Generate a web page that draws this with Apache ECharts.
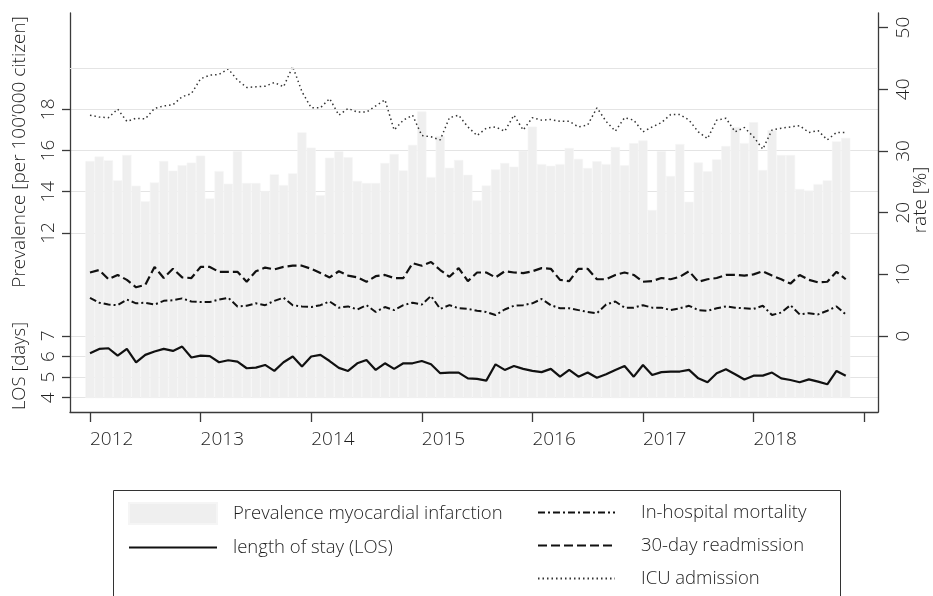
<!DOCTYPE html>
<html>
<head>
<meta charset="utf-8">
<script src="https://cdn.jsdelivr.net/npm/echarts@6/dist/echarts.min.js"></script>
<style>
html,body{margin:0;padding:0;background:#fff;}
#chart{width:933px;height:596px;}
</style>
</head>
<body>
<div id="chart"></div>
<script>
// Monthly data, Jan 2012 .. Nov 2018
const yearLabels = ['2012','2013','2014','2015','2016','2017','2018'];
const prevalence = [
  15.49,15.71,15.52,14.55,15.78,14.29,13.54,14.45,15.49,15.02,15.29,15.41,
  15.75,13.67,15.00,14.39,15.97,14.42,14.42,14.03,14.84,14.32,14.89,16.88,
  16.14,13.83,15.65,15.96,15.67,14.52,14.42,14.42,15.39,15.83,15.03,16.27,
  17.89,14.71,16.70,15.16,15.54,14.82,13.58,14.30,15.08,15.39,15.21,15.99,
  17.16,15.34,15.26,15.34,16.12,15.59,15.15,15.48,15.34,16.17,15.29,16.35,
  16.49,13.11,15.97,14.76,16.31,13.51,15.42,14.99,15.57,16.22,17.14,16.36,
  17.37,15.05,16.98,15.78,15.78,14.13,14.06,14.37,14.55,16.44,16.61
];
const los = [
  6.16,6.37,6.40,6.04,6.37,5.72,6.08,6.24,6.37,6.27,6.48,5.95,
  6.04,6.02,5.72,5.82,5.75,5.43,5.46,5.59,5.30,5.72,6.00,5.51,
  6.00,6.08,5.78,5.45,5.30,5.67,5.83,5.35,5.67,5.40,5.67,5.67,
  5.78,5.62,5.19,5.22,5.22,4.94,4.91,4.83,5.62,5.35,5.54,5.40,
  5.30,5.24,5.40,5.02,5.35,5.02,5.22,4.97,5.14,5.35,5.54,5.02,
  5.59,5.10,5.24,5.27,5.27,5.35,4.94,4.75,5.19,5.38,5.14,4.88,
  5.07,5.07,5.22,4.94,4.86,4.75,4.89,4.78,4.65,5.30,5.07
];
const mortality = [
  6.2,5.4,5.1,5.0,5.9,5.3,5.4,5.1,5.7,5.8,6.1,5.6,
  5.5,5.5,5.9,6.2,4.8,4.9,5.3,5.0,5.7,6.2,5.0,4.8,
  4.7,5.0,5.6,4.6,4.8,4.3,5.0,3.9,4.7,4.2,5.0,5.4,
  5.1,6.5,4.4,5.0,4.5,4.4,4.1,3.9,3.4,4.3,4.9,5.0,
  5.3,6.0,5.0,4.5,4.5,4.2,3.9,3.7,5.1,5.6,4.6,4.6,
  5.0,4.6,4.6,4.2,4.5,4.9,4.2,4.1,4.5,4.8,4.6,4.5,
  4.4,4.9,3.4,3.8,5.0,3.5,3.7,3.5,4.1,4.8,3.5
];
const readmission = [
  10.3,10.7,9.2,9.9,9.1,7.9,8.3,11.2,9.4,10.9,9.5,9.4,
  11.2,11.2,10.4,10.4,10.4,8.8,10.5,11.1,10.8,11.2,11.4,11.4,
  10.9,10.2,9.5,10.5,9.8,9.5,8.8,9.7,9.9,9.4,9.4,11.8,
  11.4,12.0,10.7,9.6,11.0,8.9,10.3,10.3,9.5,10.5,10.3,10.2,
  10.5,11.0,10.9,9.1,8.9,10.9,10.9,9.2,9.2,9.9,10.3,9.9,
  8.8,8.9,9.4,9.2,9.6,10.5,8.8,9.2,9.4,9.9,9.9,9.8,
  10.0,10.5,9.8,9.2,8.5,9.9,9.1,8.7,8.8,10.4,9.2
];
const icu = [
  35.8,35.5,35.4,36.8,34.8,35.3,35.2,36.9,37.3,37.5,38.8,39.3,
  41.7,42.3,42.4,43.3,41.5,40.3,40.4,40.5,41.1,40.4,43.7,39.6,
  37.0,37.0,38.5,35.8,36.9,36.3,36.3,37.3,38.3,33.4,35.0,35.8,
  32.5,32.3,31.8,35.4,35.8,33.9,32.5,33.7,33.9,33.2,35.8,33.4,
  35.4,35.0,35.1,34.8,34.8,33.9,34.2,37.0,34.8,33.2,35.4,35.0,
  33.1,33.9,34.6,35.9,35.9,35.0,33.1,32.0,35.0,35.3,33.1,33.8,
  32.3,30.3,33.4,33.7,33.9,34.1,33.0,33.3,31.8,33.0,33.0
];
const leftTicks = [4,5,6,7,12,14,16,18];
const rightTicks = [0,10,20,30,40,50];

const FONT = 'Open Sans';
const FW = 300;
const TXT = '#1e1e1e';
const AX = '#3a3a3a';
const toXY = arr => arr.map((v, i) => [i, v]);
const yearTickVals = yearLabels.map((_, k) => k * 12);
const xTickVals = yearTickVals.concat([yearLabels.length * 12]);

const XMIN = -2.17, XMAX = 85.5;
const hideSym = {opacity: 0};

const chart = echarts.init(document.getElementById('chart'), null, {renderer: 'canvas'});
chart.setOption({
  animation: false,
  backgroundColor: '#fff',
  textStyle: {fontFamily: FONT, fontWeight: FW},
  grid: [
    {left: 70, right: 55, top: 13, bottom: 184, containLabel: false},
    {left: 70, right: 55, top: 13, bottom: 198.3, containLabel: false}
  ],
  xAxis: [
    {
      type: 'value', gridIndex: 0, min: XMIN, max: XMAX, position: 'bottom',
      axisLine: {show: true, onZero: false, lineStyle: {color: AX, width: 1.3}},
      axisTick: {show: true, length: 10, customValues: xTickVals, lineStyle: {color: AX, width: 1.3}},
      axisLabel: {
        customValues: yearTickVals, align: 'left', margin: 18,
        color: TXT, fontSize: 19, fontFamily: FONT, fontWeight: FW,
        formatter: v => yearLabels[Math.round(v / 12)]
      },
      splitLine: {show: false}
    },
    {
      type: 'value', gridIndex: 1, min: XMIN, max: XMAX, show: false
    }
  ],
  yAxis: [
    {
      type: 'value', gridIndex: 0, position: 'left', min: 3.306, max: 22.675,
      axisLine: {show: true, onZero: false, lineStyle: {color: AX, width: 1.3}},
      axisTick: {show: true, length: 8, customValues: leftTicks, lineStyle: {color: AX, width: 1.3}},
      axisLabel: {customValues: leftTicks, rotate: 90, margin: 12, color: TXT, fontSize: 19, fontFamily: FONT, fontWeight: FW},
      splitLine: {show: true, lineStyle: {color: '#e4e4e4', width: 1}}
    },
    {
      type: 'value', gridIndex: 0, position: 'right', min: -12.32, max: 52.37,
      axisLine: {show: true, onZero: false, lineStyle: {color: AX, width: 1.3}},
      axisTick: {show: true, length: 10, customValues: rightTicks, lineStyle: {color: AX, width: 1.3}},
      axisLabel: {customValues: rightTicks, rotate: 90, margin: 16, color: TXT, fontSize: 19, fontFamily: FONT, fontWeight: FW},
      splitLine: {show: false}
    },
    {
      type: 'value', gridIndex: 1, min: 4, max: 22.675, show: false
    }
  ],
  legend: [
    {
      orient: 'vertical', left: 128, top: 502, padding: 0,
      itemWidth: 88, itemHeight: 21, itemGap: 13,
      textStyle: {color: TXT, fontSize: 18.5, fontFamily: FONT, fontWeight: FW, padding: [0, 0, 0, 11]},
      data: [
        {name: 'Prevalence myocardial infarction', icon: 'rect'},
        {name: 'length of stay (LOS)', itemStyle: hideSym}
      ],
      selectedMode: false
    },
    {
      orient: 'vertical', left: 537, top: 503, padding: 0,
      itemWidth: 77, itemHeight: 21, itemGap: 14,
      textStyle: {color: TXT, fontSize: 18.5, fontFamily: FONT, fontWeight: FW, padding: [0, 0, 0, 21]},
      data: [
        {name: 'In-hospital mortality', itemStyle: hideSym},
        {name: '30-day readmission', itemStyle: hideSym},
        {name: 'ICU admission', itemStyle: hideSym}
      ],
      selectedMode: false
    }
  ],
  graphic: [
    {type: 'rect', shape: {x: 113.5, y: 490.5, width: 727, height: 130}, style: {fill: 'none', stroke: '#333', lineWidth: 1}, silent: true},
    {type: 'text', x: 20, y: 152, rotation: Math.PI / 2, style: {text: 'Prevalence [per 100\u2019000 citizen]', fill: TXT, font: '300 19px "Open Sans"', align: 'center', verticalAlign: 'middle'}},
    {type: 'text', x: 20, y: 366, rotation: Math.PI / 2, style: {text: 'LOS [days]', fill: TXT, font: '300 18.5px "Open Sans"', align: 'center', verticalAlign: 'middle'}},
    {type: 'text', x: 921, y: 200, rotation: Math.PI / 2, style: {text: 'rate [%]', fill: TXT, font: '300 19px "Open Sans"', align: 'center', verticalAlign: 'middle'}}
  ],
  series: [
    {
      name: 'Prevalence myocardial infarction', type: 'bar',
      xAxisIndex: 1, yAxisIndex: 2,
      data: toXY(prevalence), barWidth: 9.2,
      itemStyle: {color: '#efefef', borderColor: '#f5f5f5', borderWidth: 0.6},
      z: 1
    },
    {
      name: 'length of stay (LOS)', type: 'line', xAxisIndex: 0, yAxisIndex: 0,
      data: toXY(los), symbol: 'none',
      lineStyle: {color: '#111', width: 2.2},
      itemStyle: {color: '#111'},
      markLine: {
        silent: true, symbol: 'none', label: {show: false},
        lineStyle: {color: '#e4e4e4', width: 1, type: 'solid'},
        data: [{yAxis: 20}]
      },
      z: 3
    },
    {
      name: 'In-hospital mortality', type: 'line', xAxisIndex: 0, yAxisIndex: 1,
      data: toXY(mortality), symbol: 'none',
      lineStyle: {color: '#111', width: 2, type: [7, 3, 2, 3]},
      itemStyle: {color: '#111'}, z: 3
    },
    {
      name: '30-day readmission', type: 'line', xAxisIndex: 0, yAxisIndex: 1,
      data: toXY(readmission), symbol: 'none',
      lineStyle: {color: '#111', width: 2.2, type: [9, 4]},
      itemStyle: {color: '#111'}, z: 3
    },
    {
      name: 'ICU admission', type: 'line', xAxisIndex: 0, yAxisIndex: 1,
      data: toXY(icu), symbol: 'none',
      lineStyle: {color: '#333', width: 1.5, type: [1.5, 3]},
      itemStyle: {color: '#333'}, z: 3
    }
  ]
});
</script>
</body>
</html>
